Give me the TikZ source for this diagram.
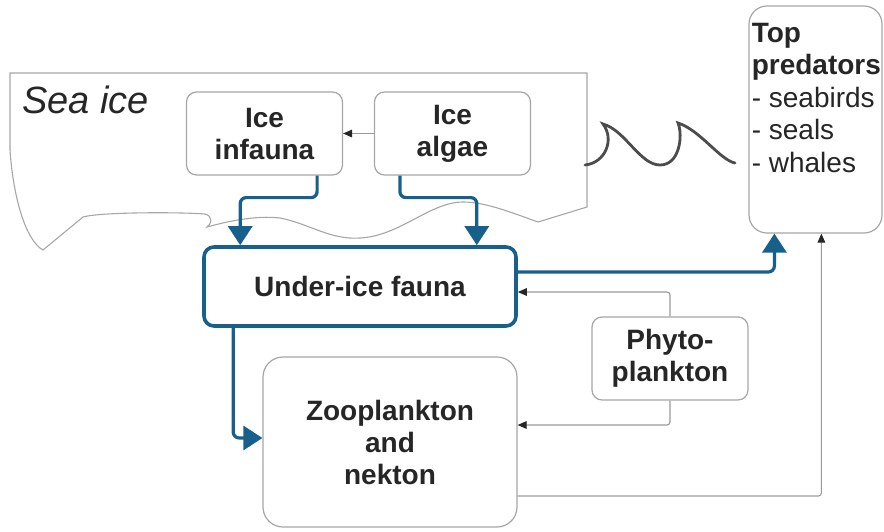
\documentclass[tikz,border=0pt]{standalone}
\usepackage{fontspec}
\setmainfont{Liberation Sans}
\usetikzlibrary{arrows.meta}
\definecolor{iceblue}{RGB}{24,96,140}
\tikzset{
  foodbox/.style={draw=gray!70,rounded corners=5pt,line width=.6pt,align=center,inner sep=0pt,
    font=\fontsize{14}{16}\selectfont\bfseries,text=black!85,minimum width=78pt,minimum height=41.5pt},
  underbox/.style={foodbox,draw=iceblue,line width=1.8pt,minimum width=156pt,minimum height=39.5pt},
  zoobox/.style={foodbox,rounded corners=10pt,minimum width=127pt,minimum height=85pt},
  predbox/.style={foodbox,rounded corners=9pt,minimum width=66.5pt,minimum height=113.5pt},
  bluearr/.style={-{Triangle[width=12pt,length=9.5pt]},line width=1.6pt,draw=iceblue,rounded corners=3pt},
  thinarr/.style={-{Triangle[width=3.8pt,length=4.5pt,color=black!85]},line width=.55pt,draw=gray!80,rounded corners=1.5pt},
  iceedge/.style={draw=gray!70,line width=.55pt},
  waveline/.style={draw=black!70,line width=1.4pt,line cap=round}
}

\begin{document}
\begin{tikzpicture}[x=0.5pt,y=-0.5pt]
  \useasboundingbox (0,0) rectangle (884,531);

  % sea ice outline
  \draw[iceedge] (587,207) -- (587,73) -- (10,73) -- (10,150)
    .. controls (13,195) and (25,240) .. (43,250) -- (83,217)
    .. controls (100,212) and (180,212) .. (205,214)
    .. controls (213,216) and (212,224) .. (207,227)
    .. controls (225,222) and (255,215) .. (280,218)
    .. controls (310,224) and (330,240) .. (360,238)
    .. controls (400,236) and (430,202) .. (463,202)
    .. controls (485,202) and (510,212) .. (538,222) -- cycle;
  \node[font=\fontsize{19}{22}\selectfont\itshape,text=black!85,anchor=base west,inner sep=0pt] (seaice) at (22,113) {Sea ice};

  % waves
  \draw[waveline] (585,165) .. controls (605,163) and (615,140) .. (603,124)
    .. controls (625,130) and (640,165) .. (660,165)
    .. controls (680,165) and (683,135) .. (678,123)
    .. controls (700,130) and (720,160) .. (735,163);

  % boxes
  \node[foodbox] (infauna) at (264.5,133.5) {Ice\\infauna};
  \node[foodbox] (algae) at (452.5,133.5) {Ice\\algae};
  \node[underbox] (under) at (360,286.5) {Under-ice fauna};
  \node[foodbox] (phyto) at (670,358.5) {Phyto-\\plankton};
  \node[zoobox] (zoo) at (390,442) {Zooplankton\\and\\nekton};
  \node[predbox] (pred) at (815.5,119.5) {};
  \node[anchor=north west,align=left,inner sep=0pt,text=black!85,font=\fontsize{14}{16.25}\selectfont]
    (predtext) at ([xshift=1.5pt,yshift=-8.5pt]pred.north west)
    {\textbf{Top}\\\textbf{predators}\\- seabirds\\- seals\\- whales};

  % flows
  \draw[thinarr] (algae) -- (infauna);
  \draw[bluearr] ([xshift=-13pt]infauna.south east) -- ++(0,-11pt) -| ([xshift=19pt]under.north west);
  \draw[bluearr] ([xshift=13pt]algae.south west) -- ++(0,-11pt) -| ([xshift=-20.5pt]under.north east);
  \draw[bluearr] ([yshift=7.25pt]under.east) -| ([xshift=13pt]pred.south west);
  \draw[bluearr] ([xshift=15.5pt]under.south west) |- ([yshift=2pt]zoo.west);
  \draw[thinarr] (phyto.north) |- ([yshift=-2.75pt]under.east);
  \draw[thinarr] (phyto.south) |- ([yshift=8.5pt]zoo.east);
  \draw[thinarr] ([yshift=-27pt]zoo.east) -| ([xshift=36.5pt]pred.south west);
\end{tikzpicture}
\end{document}
